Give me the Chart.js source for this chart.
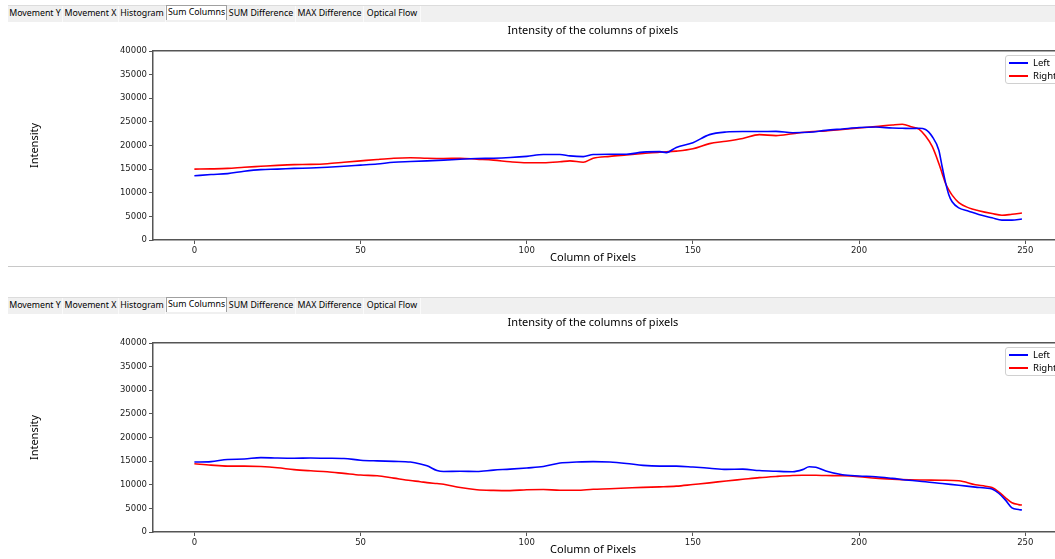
<!DOCTYPE html>
<html>
<head>
<meta charset="utf-8">
<title>Sum Columns</title>
<script src="https://cdn.jsdelivr.net/npm/chart.js@4.4.1/dist/chart.umd.min.js"></script>
<style>
    body {
        margin: 0;
        width: 1055px;
        height: 559px;
        overflow: hidden;
        position: relative;
        background: #fff;
        font-family: "Noto Sans", sans-serif;
    }
    .tabs {
        position: absolute;
        left: 8px;
        right: 0;
        height: 16px;
        background: #f0f0f0;
        border-top: 1px solid #dcdcdc;
        display: flex;
        font-size: 8.8px;
        line-height: 15px;
        color: #000;
    }
    .tabs span {
        text-align: center;
        border-right: 1px solid #fafafa;
        white-space: nowrap;
        box-sizing: border-box;
    }
    .tabs span.active {
        background: #fff;
        border: 1px solid #a0a0a0;
        border-bottom: none;
        line-height: 13px;
        margin-top: -1px;
        height: 15px;
    }
    .panel {
        position: absolute;
        left: 0;
    }
    .sep {
        position: absolute;
        left: 8px;
        right: 0;
        height: 1px;
        background: #c8c8c8;
    }
    .legend {
        position: absolute;
        left: 1005px;
        width: 56px;
        height: 27px;
        border: 1px solid #d0d0d0;
        border-radius: 3px;
        background: rgba(255,255,255,0.8);
        font-size: 9.5px;
    }
    .legend div {
        position: relative;
        height: 12px;
        line-height: 12px;
        padding-left: 27px;
        margin-top: 1px;
    }
    .legend i {
        position: absolute;
        left: 3px;
        top: 5px;
        width: 19px;
        height: 2px;
    }
</style>
</head>
<body>

<div class="tabs" id="tabs1" style="top:5px"></div>
<div class="panel" style="top:22px"><canvas id="topChart" width="1186" height="244"></canvas></div>
<div class="legend" id="legend1" style="top:55px"></div>

<div class="sep" style="top:266px"></div>

<div class="tabs" id="tabs2" style="top:297px"></div>
<div class="panel" style="top:314px"><canvas id="bottomChart" width="1186" height="244"></canvas></div>
<div class="legend" id="legend2" style="top:347px"></div>

<script>
const tabNames = ['Movement Y', 'Movement X', 'Histogram', 'Sum Columns', 'SUM Difference', 'MAX Difference', 'Optical Flow'];
const tabWidths = [55, 56, 47, 61, 69, 68, 57];
const activeTab = 'Sum Columns';

const seriesLabels = ['Left', 'Right'];
const seriesColors = ['#0000ff', '#ff0000'];

const xTickValues = [0, 50, 100, 150, 200, 250];
const yTickValues = [0, 5000, 10000, 15000, 20000, 25000, 30000, 35000, 40000];

// first screenshot
const topColumns = [0, 5, 10, 15, 20, 25, 30, 35, 40, 45, 50, 55, 60, 65, 70, 75, 80, 85, 90, 95,
    100, 105, 110, 113, 117, 120, 125, 130, 135, 140, 142, 145, 150, 155, 160, 165, 170, 175, 180, 185,
    190, 195, 200, 205, 210, 213, 216, 218, 220, 222, 224, 225, 226, 227, 228, 230, 233, 236, 240, 243, 246, 249];
const topLeft = [13600, 13850, 14050, 14550, 14900, 15000, 15150, 15250, 15400, 15600, 15850, 16100, 16450, 16600, 16750, 16900, 17100, 17250, 17300, 17450,
    17700, 18100, 18100, 17800, 17650, 18100, 18150, 18150, 18600, 18700, 18500, 19600, 20600, 22300, 22850, 22950, 22950, 23000, 22700, 22800,
    23200, 23500, 23800, 23900, 23700, 23650, 23600, 23650, 23400, 21900, 19000, 15500, 12200, 9600, 8100, 6800, 6100, 5400, 4700, 4200, 4200, 4450];
const topRight = [15000, 15050, 15150, 15400, 15600, 15800, 15950, 16000, 16150, 16450, 16750, 17050, 17300, 17400, 17300, 17250, 17300, 17100, 16900, 16550,
    16350, 16350, 16550, 16750, 16450, 17300, 17700, 18000, 18300, 18600, 18650, 18800, 19300, 20400, 20900, 21500, 22300, 22100, 22500, 22900,
    23100, 23400, 23700, 24000, 24350, 24500, 23900, 23450, 22000, 19800, 16200, 14100, 12000, 10600, 9500, 7900, 6800, 6200, 5600, 5250, 5450, 5700];

// second screenshot
const bottomColumns = [0, 5, 10, 15, 20, 25, 30, 35, 40, 45, 50, 55, 60, 65, 68, 70, 73, 75, 80, 85,
    90, 95, 100, 105, 110, 115, 120, 125, 130, 135, 140, 145, 150, 155, 160, 165, 170, 175, 180, 183,
    185, 187, 190, 195, 200, 205, 210, 215, 220, 225, 230, 235, 238, 240, 242, 244, 246, 248, 249];
const bottomLeft = [14800, 14900, 15350, 15450, 15750, 15650, 15600, 15650, 15600, 15550, 15200, 15050, 14950, 14800, 14400, 14000, 13000, 12800, 12850, 12800,
    13100, 13300, 13550, 13850, 14600, 14800, 14900, 14800, 14500, 14100, 13950, 13950, 13750, 13500, 13250, 13300, 13000, 12850, 12750, 13200,
    13800, 13700, 12900, 12100, 11850, 11700, 11350, 10950, 10650, 10250, 9900, 9500, 9300, 9100, 8200, 6800, 5100, 4750, 4650];
const bottomRight = [14450, 14150, 13950, 13950, 13850, 13600, 13200, 12950, 12750, 12400, 12050, 11900, 11400, 10900, 10650, 10450, 10250, 10100, 9400, 8950,
    8800, 8750, 8950, 9000, 8850, 8850, 9050, 9150, 9300, 9450, 9550, 9700, 10050, 10400, 10800, 11150, 11500, 11750, 11950, 12000,
    12000, 12000, 11950, 11900, 11700, 11400, 11200, 11050, 11000, 10950, 10850, 10000, 9700, 9400, 8500, 7300, 6200, 5800, 5700];

const xMin = -12.45;
const xMax = 261.45;
const axisColor = '#555';
const textColor = '#000';
const tickColor = '#222';

Chart.defaults.font.family = 'Noto Sans';

function buildTabs(id) {
    const bar = document.getElementById(id);
    tabNames.forEach((name, i) => {
        const tab = document.createElement('span');
        tab.textContent = name;
        tab.style.width = tabWidths[i] + 'px';
        if (name === activeTab) tab.className = 'active';
        bar.appendChild(tab);
    });
}

function buildLegend(id) {
    const box = document.getElementById(id);
    seriesLabels.forEach((label, i) => {
        const row = document.createElement('div');
        row.innerHTML = '<i style="background:' + seriesColors[i] + '"></i>' + label;
        box.appendChild(row);
    });
}

function drawSumChart(canvasId, columns, left, right) {
    const ctx = document.getElementById(canvasId).getContext('2d');
    const series = [left, right];
    const tickFont = { family: 'DejaVu Sans', size: 8.5 };
    const labelFont = { family: 'Noto Sans', size: 11, weight: 'normal' };

    return new Chart(ctx, {
        type: 'line',
        data: {
            datasets: series.map((values, i) => ({
                label: seriesLabels[i],
                data: columns.map((c, j) => ({ x: c, y: values[j] })),
                xAxisID: 'x',
                yAxisID: 'y',
                borderColor: seriesColors[i],
                borderWidth: 1.6,
                pointRadius: 0,
                fill: false,
                cubicInterpolationMode: 'monotone'
            }))
        },
        options: {
            responsive: false,
            animation: false,
            events: [],
            layout: { padding: 0 },
            plugins: {
                legend: { display: false },
                tooltip: { enabled: false },
                title: {
                    display: true,
                    text: 'Intensity of the columns of pixels',
                    color: textColor,
                    font: labelFont,
                    padding: { top: 2, bottom: 13.8 }
                },
                subtitle: {
                    display: true,
                    position: 'bottom',
                    text: 'Column of Pixels',
                    color: textColor,
                    font: labelFont,
                    padding: { top: -6.6, bottom: 1.4 }
                }
            },
            scales: {
                x: {
                    type: 'linear',
                    min: xMin,
                    max: xMax,
                    afterBuildTicks: s => { s.ticks = xTickValues.map(v => ({ value: v })); },
                    afterFit: s => { s.height = 18; },
                    grid: { drawOnChartArea: false, tickLength: 4, color: axisColor },
                    border: { color: axisColor, width: 1.5 },
                    ticks: { font: tickFont, color: tickColor, padding: 2, maxRotation: 0 }
                },
                y: {
                    min: 0,
                    max: 40000,
                    afterBuildTicks: s => { s.ticks = yTickValues.map(v => ({ value: v })); },
                    afterFit: s => { s.width = 153; },
                    title: {
                        display: true,
                        text: 'Intensity',
                        color: textColor,
                        font: labelFont,
                        padding: { top: 28.4, bottom: 0 }
                    },
                    grid: { drawOnChartArea: false, tickLength: 4, color: axisColor },
                    border: { color: axisColor, width: 1.5 },
                    ticks: { font: tickFont, color: tickColor, padding: 2, callback: v => String(v) }
                },
                xTop: {
                    type: 'linear',
                    position: 'top',
                    min: xMin,
                    max: xMax,
                    ticks: { display: false },
                    grid: { display: false, drawTicks: false },
                    border: { color: axisColor, width: 1.5 },
                    afterFit: s => { s.height = 0; }
                },
                // empty space on the right, the plot runs past the window edge
                yRight: {
                    position: 'right',
                    min: 0,
                    max: 1,
                    ticks: { display: false },
                    grid: { display: false, drawTicks: false },
                    border: { display: false },
                    afterFit: s => { s.width = 122.7; }
                }
            }
        }
    });
}

buildTabs('tabs1');
buildTabs('tabs2');
buildLegend('legend1');
buildLegend('legend2');
drawSumChart('topChart', topColumns, topLeft, topRight);
drawSumChart('bottomChart', bottomColumns, bottomLeft, bottomRight);
</script>
</body>
</html>
